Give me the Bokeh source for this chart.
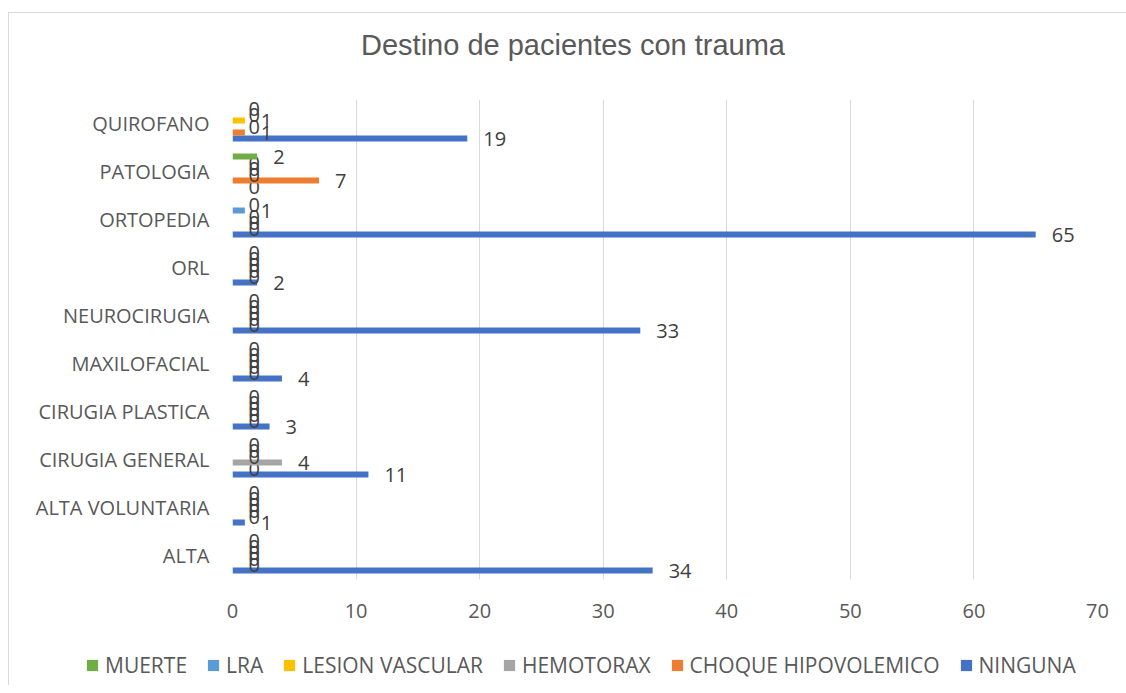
from bokeh.plotting import figure
from bokeh.layouts import column
from bokeh.models import (FactorRange, Range1d, FixedTicker, Legend, LegendItem,
                          ColumnDataSource, Label)
from bokeh.transform import dodge
from bokeh.core.properties import value
from bokeh.embed import file_html
from bokeh.resources import INLINE

categories = ["ALTA", "ALTA VOLUNTARIA", "CIRUGIA GENERAL", "CIRUGIA PLASTICA", "MAXILOFACIAL",
              "NEUROCIRUGIA", "ORL", "ORTOPEDIA", "PATOLOGIA", "QUIROFANO"]
ninguna = [34, 1, 11, 3, 4, 33, 2, 65, 0, 19]
choque = [0, 0, 0, 0, 0, 0, 0, 0, 7, 1]
hemotorax = [0, 0, 4, 0, 0, 0, 0, 0, 0, 0]
lesion = [0, 0, 0, 0, 0, 0, 0, 0, 0, 1]
lra = [0, 0, 0, 0, 0, 0, 0, 1, 0, 0]
muerte = [0, 0, 0, 0, 0, 0, 0, 0, 2, 0]
series_names = ["NINGUNA", "CHOQUE HIPOVOLEMICO", "HEMOTORAX", "LESION VASCULAR", "LRA", "MUERTE"]
series_values = [ninguna, choque, hemotorax, lesion, lra, muerte]
series_colors = ["#4472C4", "#ED7D31", "#A5A5A5", "#FFC000", "#5B9BD5", "#70AD47"]
x_ticks = [0, 10, 20, 30, 40, 50, 60, 70]
title_text = "Destino de pacientes con trauma"

FONT = "Open Sans"
GREY = "#595959"
W = 1117

# title strip
p0 = figure(width=W, height=70, x_range=Range1d(0, W), y_range=Range1d(0, 70),
            min_border=0, x_axis_type=None, y_axis_type=None,
            output_backend="svg", toolbar_location=None)
p0.outline_line_color = None
p0.grid.grid_line_color = None
p0.border_fill_color = "white"
p0.frame_align = False
p0.add_layout(Label(x=563.5, y=39, text=title_text, text_align="center",
                    text_baseline="middle", text_font="Liberation Sans",
                    text_font_size="29px", text_color=GREY))

# main chart
p = figure(y_range=FactorRange(factors=categories), x_range=Range1d(0, 70),
           frame_width=865, frame_height=480,
           min_border_left=223, min_border_right=W - 223 - 865, min_border_top=16,
           min_border_bottom=66,
           output_backend="svg", toolbar_location=None)
p.outline_line_color = None
p.background_fill_color = "white"
p.border_fill_color = "white"
p.frame_align = False

step = 0.125
for i, (name, vals, col) in enumerate(zip(series_names, series_values, series_colors)):
    off = (i - 2.5) * step
    src = ColumnDataSource(dict(cat=categories, val=vals, lab=[str(v) for v in vals]))
    p.hbar(y=dodge("cat", off, range=p.y_range), left=0, right="val", height=step,
           fill_color=col, line_color=None, source=src)
    p.text(x="val", y=dodge("cat", off, range=p.y_range), text="lab", x_offset=16,
           text_baseline="middle", text_align="left", text_font=value(FONT),
           text_font_size="20px", text_color="#404040", source=src)

p.xaxis.ticker = FixedTicker(ticks=x_ticks)
p.xaxis.axis_line_color = None
p.xaxis.major_tick_line_color = None
p.xaxis.minor_tick_line_color = None
p.xaxis.major_label_text_font = FONT
p.xaxis.major_label_text_font_size = "20px"
p.xaxis.major_label_text_color = GREY
p.xaxis.major_label_standoff = 18

p.yaxis.axis_line_color = None
p.yaxis.major_tick_line_color = None
p.yaxis.minor_tick_line_color = None
p.yaxis.major_label_text_font = FONT
p.yaxis.major_label_text_font_size = "20px"
p.yaxis.major_label_text_color = GREY
p.yaxis.major_label_standoff = 17

p.xgrid.grid_line_color = "#d9d9d9"
p.xgrid.grid_line_width = 1
p.ygrid.grid_line_color = None

# legend strip below the chart (its frame spans the full width)
p2 = figure(width=W, height=40, x_range=Range1d(0, 1), y_range=Range1d(0, 1),
            min_border=0, x_axis_type=None, y_axis_type=None,
            output_backend="svg", toolbar_location=None)
p2.outline_line_color = None
p2.grid.grid_line_color = None
p2.border_fill_color = "white"
p2.frame_align = False

# zero-width swatch renderers: they only feed the legend
leg_renderers = []
for name, col in zip(series_names, series_colors):
    r = p2.hbar(y=[0.5], left=[0], right=[0], height=0.1, fill_color=col, line_color=None)
    leg_renderers.append((name, r))

items = [LegendItem(label=n, renderers=[r]) for n, r in reversed(leg_renderers)]
legend = Legend(items=items, orientation="horizontal", location="center_left",
                glyph_width=14, glyph_height=14, label_standoff=6, spacing=19,
                padding=0, margin=76, label_height=14,
                label_text_font=FONT, label_text_font_size="21px", label_text_color=GREY,
                border_line_color=None, background_fill_alpha=0)
p2.add_layout(legend, "center")

layout = column(p0, p, p2, spacing=0,
                styles={"margin-left": "8px", "margin-top": "12px",
                        "border-left": "1px solid #d9d9d9", "border-top": "1px solid #d9d9d9"})
open("out.html", "w").write(file_html(layout, INLINE))
